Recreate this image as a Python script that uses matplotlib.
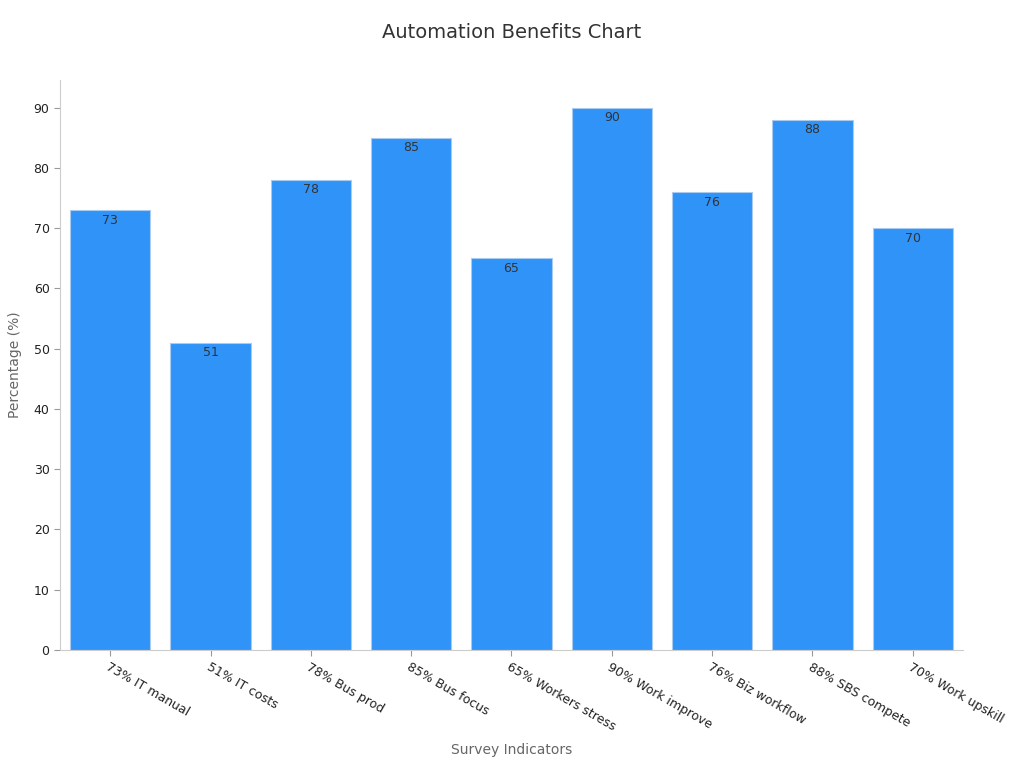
import matplotlib.pyplot as plt

categories = ['73% IT manual', '51% IT costs', '78% Bus prod', '85% Bus focus',
              '65% Workers stress', '90% Work improve', '76% Biz workflow',
              '88% SBS compete', '70% Work upskill']
values = [73, 51, 78, 85, 65, 90, 76, 88, 70]

fig = plt.figure(figsize=(10.24, 7.68), dpi=100)
ax = fig.add_axes([0.0586, 0.1536, 0.8818, 0.7425])

x = range(len(categories))
rects = ax.bar(x, values, 0.8, color='#3093F8', edgecolor='#A9CBF0', linewidth=0.8)
for rect, v in zip(rects, values):
    ax.text(rect.get_x() + rect.get_width() / 2, v - 0.6, str(v),
            ha='center', va='top', fontsize=9, color='#333333')

ax.set_xlim(-0.5, len(categories) - 0.5)
ax.set_ylim(0, 94.6)
ax.set_yticks(range(0, 91, 10))
ax.set_xticks(list(x))
ax.set_xticklabels(categories, rotation=-30, ha='left', rotation_mode='anchor',
                   fontsize=9, color='#222222')
ax.tick_params(axis='y', labelsize=9, labelcolor='#222222', color='#999999', length=4)
ax.tick_params(axis='x', color='#999999', length=4)

for s in ['top', 'right']:
    ax.spines[s].set_visible(False)
for s in ['left', 'bottom']:
    ax.spines[s].set_color('#CCCCCC')

ax.set_xlabel('Survey Indicators', fontsize=10, color='#666666')
ax.xaxis.set_label_coords(0.5, -0.175)
ax.xaxis.label.set_verticalalignment('center')
ax.set_ylabel('Percentage (%)', fontsize=10, color='#666666', labelpad=8)
fig.suptitle('Automation Benefits Chart', fontsize=14, color='#333333', y=0.97)

fig.savefig('out.png', dpi=100)
